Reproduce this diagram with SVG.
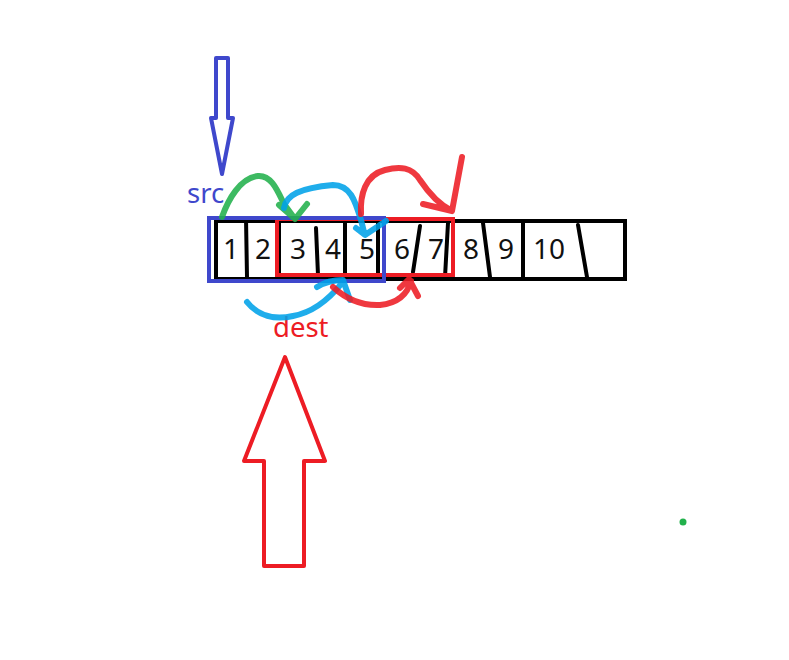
<svg xmlns="http://www.w3.org/2000/svg" width="789" height="660" viewBox="0 0 789 660">
<style>
.num{font-family:"Noto Sans","Open Sans","DejaVu Sans",sans-serif;font-size:28px;fill:#111;text-anchor:middle}
.lbl{font-family:"Noto Sans","Open Sans","DejaVu Sans",sans-serif;font-size:27.5px}
.div{stroke:#000;stroke-width:4;fill:none;stroke-linecap:round}
.c{fill:none;stroke-width:6;stroke-linecap:round;stroke-linejoin:round}
.g{stroke:#22b14c;stroke-opacity:0.88}
.b{stroke:#00a2e8;stroke-opacity:0.88}
.r{stroke:#ed1c24;stroke-opacity:0.88}
</style>
<rect width="789" height="660" fill="#fff"/>
<g id="array">
<rect x="216" y="221" width="409" height="58" fill="none" stroke="#000" stroke-width="4"/>
<path class="div" d="M246,218 L247,277 M279,223 L279,277 M316,228 L318,275 M345,223 L345,277 M378,223 L378,277 M420,226 L413,272 M448,223 L445,277 M483,223 L490,277 M523,223 L523,277 M578,225 L587,277"/>
<text class="num" x="231" y="259">1</text>
<text class="num" x="263" y="259">2</text>
<text class="num" x="298" y="259">3</text>
<text class="num" x="333" y="259">4</text>
<text class="num" x="367" y="259">5</text>
<text class="num" x="402" y="259">6</text>
<text class="num" x="436" y="259">7</text>
<text class="num" x="471" y="259">8</text>
<text class="num" x="506" y="259">9</text>
<text class="num" x="549" y="259">10</text>
</g>
<g id="dest-range">
<rect x="277" y="219" width="176" height="56" fill="none" stroke="#ed1c24" stroke-width="4"/>
</g>
<g id="src-range">
<rect x="209" y="218" width="175" height="63" fill="none" stroke="#3f48cc" stroke-width="4"/>
</g>
<g id="src">
<path d="M216,58 L228,58 L228,118 L233,118 L222,174 L211,118 L216,118 Z" fill="none" stroke="#3f48cc" stroke-width="4" stroke-linejoin="round"/>
<text class="lbl" x="187" y="203" fill="#3f48cc">src</text>
</g>
<g id="dest">
<path d="M285,357 L325,461 L304,461 L304,566 L264,566 L264,461 L244,461 Z" fill="none" stroke="#ed1c24" stroke-width="4" stroke-linejoin="round"/>
<text class="lbl" x="273" y="337" fill="#ed1c24">dest</text>
</g>
<g id="connectors">
<path class="c g" d="M222,217 C228,200 240,178 258,176 C272,175 278,192 284,204 L295,219 L307,204 M279,205 L294,218"/>
<path class="c b" d="M284,208 C286,195 300,188 333,185 C350,185 355,200 361,220 L364,232 M356,228 L365,235 L386,221"/>
<path class="c b" d="M247,302 C258,316 275,320 293,316 C315,312 330,298 342,283 M317,287 C325,282 335,280 343,280 L350,300"/>
<path class="c r" d="M333,287 C345,298 360,306 380,305 C400,303 408,292 411,281 M400,288 L409,279 L418,296"/>
<path class="c r" d="M361,214 C360,195 365,175 385,170 C400,166 412,167 420,180 C430,195 440,205 452,211 L462,157 M423,204 L452,211"/>
</g>
<circle id="dot" cx="683" cy="522" r="3.5" fill="#22b14c"/>
</svg>
